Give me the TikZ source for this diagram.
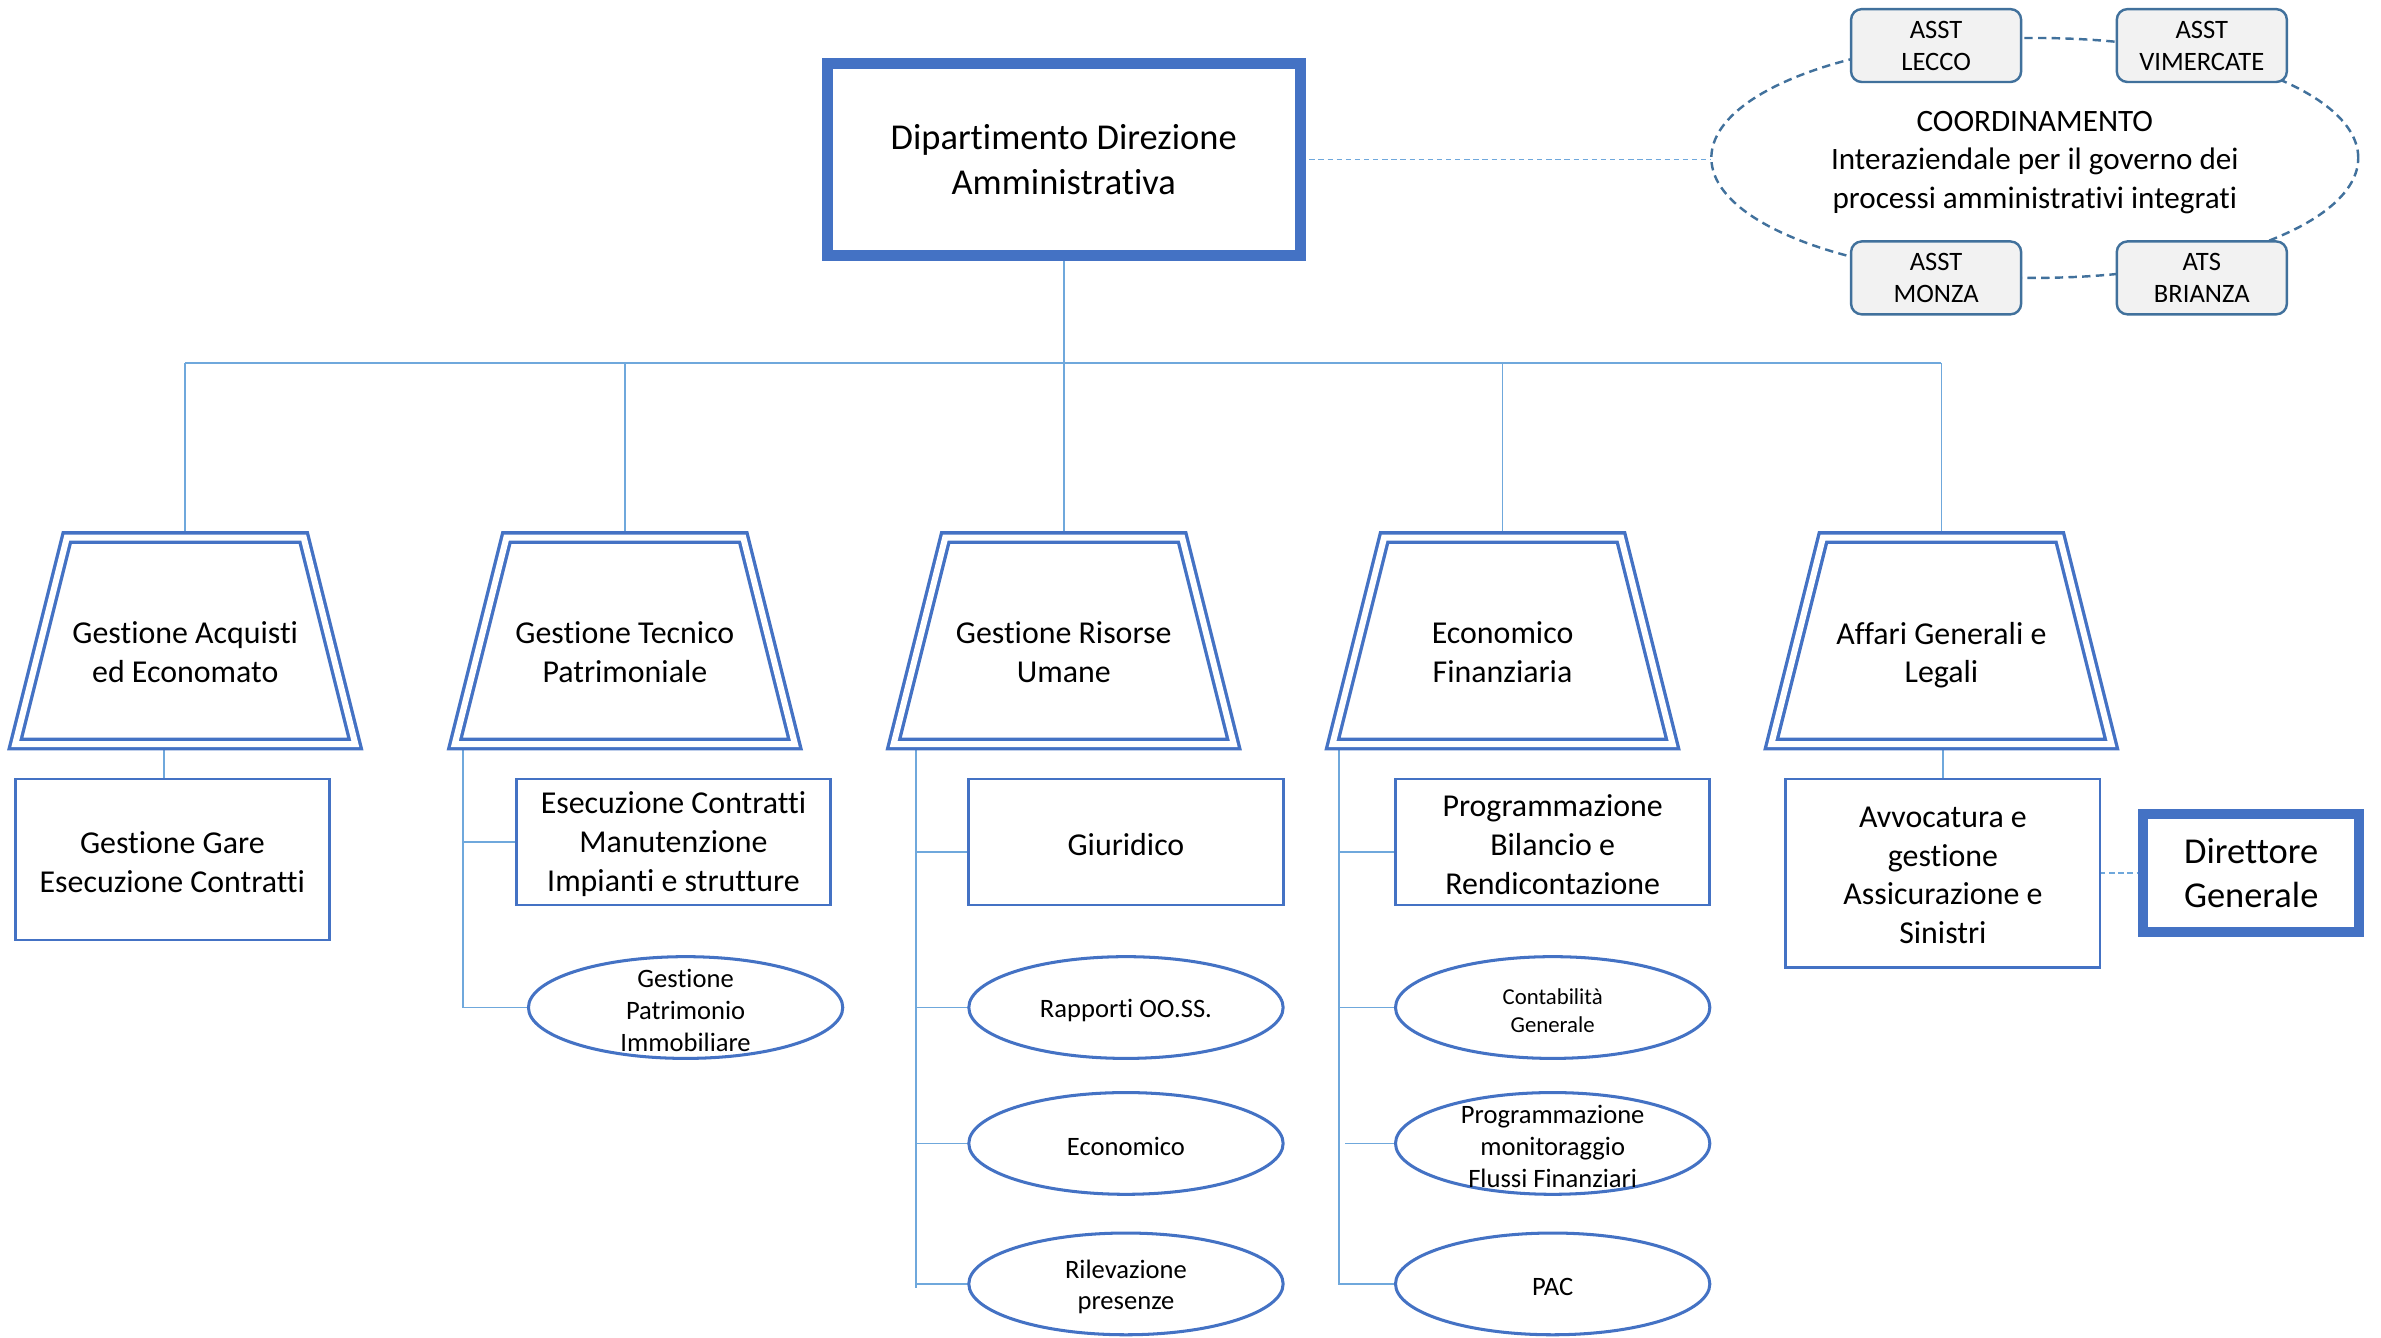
\documentclass[tikz,border=0pt]{standalone}
\usepackage{fontspec}
\setmainfont{Carlito}[Ligatures=NoCommon]
\usetikzlibrary{shapes.geometric,calc}
\definecolor{mainblue}{HTML}{4472C4}
\definecolor{lineblue}{HTML}{6FA8DC}
\definecolor{coordblue}{HTML}{41719C}
\definecolor{boxgray}{HTML}{F2F2F2}
\newcommand{\fsz}[2]{\fontsize{#1pt}{#2pt}\selectfont}
\pgfdeclarelayer{bg}
\pgfdeclarelayer{paper}
\pgfsetlayers{paper,bg,main}
\begin{document}
\begin{tikzpicture}[x=1pt,y=-1pt,
  conn/.style={draw=lineblue, line width=1.1pt},
  dconn/.style={draw=lineblue, line width=1.1pt, dash pattern=on 3.5pt off 2.5pt},
  mainbox/.style={draw=mainblue, line width=7.5pt, fill=white, inner sep=0pt, outer sep=0pt, align=center, font=\fsz{24}{29.3}},
  subbox/.style={draw=mainblue, line width=1.8pt, fill=white, inner sep=0pt, outer sep=0pt, minimum width=207pt},
  boxtext/.style={align=center, font=\fsz{21}{25.6}, inner sep=0pt},
  trapbody/.style={rectangle, inner sep=0pt, outer sep=0pt, minimum width=224pt, minimum height=136pt},
  trapline/.style={draw=mainblue, line width=2.2pt, double=white, double distance=4pt, line join=miter},
  traptext/.style={align=center, font=\fsz{21}{25.6}, inner sep=0pt},
  oval/.style={ellipse, draw=mainblue, line width=2pt, fill=white, inner sep=0pt, outer sep=0pt, minimum width=207pt, minimum height=67pt},
  ovaltext/.style={align=center, font=\fsz{17.5}{21}, inner sep=0pt},
  asst/.style={draw=coordblue, line width=1.6pt, fill=boxgray, rounded corners=7pt, minimum width=112pt, minimum height=48pt, inner sep=0pt, align=center, font=\fsz{17.5}{21}},
]
\begin{pgfonlayer}{paper}
\path[fill=white] (0,0) rectangle (1568,881);
\end{pgfonlayer}
\useasboundingbox (0,0) rectangle (1568,881);

% main box
\node[mainbox, minimum width=311.5pt, minimum height=126.5pt] (main) at (700.5,105)
  {Dipartimento Direzione\\Amministrativa};

% coordination
\node[ellipse, draw=coordblue, line width=1.6pt, dash pattern=on 5.5pt off 3.5pt,
  minimum width=426pt, minimum height=158pt, inner sep=0pt, outer sep=0pt] (coord) at (1340,104) {};
\node[align=center, inner sep=0pt, font=\fsz{20.5}{25.5}] (coordt) at (1340,107)
  {COORDINAMENTO\\Interaziendale per il governo dei\\processi amministrativi integrati};
\node[asst] (lecco) at (1275,30) {ASST\\LECCO};
\node[asst] (vimer) at (1450,30) {ASST\\VIMERCATE};
\node[asst] (monza) at (1275,183) {ASST\\MONZA};
\node[asst] (brianza) at (1450,183) {ATS\\BRIANZA};

% trapezoids
\foreach \n/\c/\txt in {T1/122/{Gestione Acquisti\\ed Economato},
                        T2/411.5/{Gestione Tecnico\\Patrimoniale},
                        T3/700.5/{Gestione Risorse\\Umane},
                        T4/989.5/{Economico\\Finanziaria},
                        T5/1278.5/{Affari Generali e\\Legali}}{
  \node[trapbody] (\n) at (\c,422) {};
  \draw[trapline] ($(\n.north west)+(34,0)$) -- ($(\n.north east)+(-34,0)$)
    -- (\n.south east) -- (\n.south west) -- cycle;
  \node[traptext] (\n t) at ($(\n.center)+(0,11.5)$) {\txt\strut};
}

% rectangles
\foreach \n/\x/\y/\h/\txt in {gare/113.5/566/106/{Gestione Gare\\Esecuzione Contratti},
    ese/443.5/554.5/83/{Esecuzione Contratti\\Manutenzione\\Impianti e strutture},
    giur/741.5/554.5/83/{Giuridico},
    progbil/1022.5/554.5/83/{Programmazione\\Bilancio e\\Rendicontazione},
    avv/1279.5/575/124/{Avvocatura e\\gestione\\Assicurazione e\\Sinistri}}{
  \node[subbox, minimum height=\h pt] (\n) at (\x,\y) {};
  \node[boxtext] (\n t) at ($(\n.center)+(0,1.5)$) {\txt};
}
\node[draw=mainblue, line width=6.6pt, fill=white, inner sep=0pt, outer sep=0pt,
  minimum width=142.4pt, minimum height=77.4pt, align=center, font=\fsz{24}{29.5}]
  (dg) at (1482.5,575) {Direttore\\Generale};

% ellipses
\foreach \n/\x/\y/\txt/\f in {gpi/451.5/663.5/{Gestione\\Patrimonio\\Immobiliare}/{\fsz{17.5}{21}},
                          rapp/741.5/663.5/{Rapporti OO.SS.}/{\fsz{17.5}{21}},
                          econ/741.5/753/{Economico}/{\fsz{17.5}{21}},
                          ril/741.5/845.5/{Rilevazione\\presenze}/{\fsz{17.5}{21}},
                          cont/1022.5/663.5/{Contabilità\\Generale}/{\fsz{15}{18}},
                          pmf/1022.5/753/{Programmazione\\monitoraggio\\Flussi Finanziari}/{\fsz{17.5}{21}},
                          pac/1022.5/845.5/{PAC}/{\fsz{17.5}{21}}}{
  \node[oval] (\n) at (\x,\y) {};
  \node[ovaltext, font=\f] (\n t) at ($(\n.center)+(0,2)$) {\txt};
}

% connectors
\begin{pgfonlayer}{bg}
\coordinate (bus) at (700.5,239);
\draw[conn] (main.south) -- (main.south |- bus);
\draw[conn] (T1.north |- bus) -- (T5.north |- bus);
\foreach \t in {T1,T2,T3,T4,T5} \draw[conn] (\t.north |- bus) -- (\t.north);
\draw[dconn] (main.east) -- (main.east -| coord.west);
\draw[dconn] (avv.east) -- (dg.west);
% T1
\coordinate (k1) at ($(gare.north)+(-5.5,0)$);
\draw[conn] (k1 |- T1.south) -- (k1);
% T2
\coordinate (k2) at (305,663.5);
\draw[conn] (k2 |- T2.south) -- (k2);
\draw[conn] (k2 |- ese.west) -- (ese.west);
\draw[conn] (k2) -- (gpi.west);
% T3
\coordinate (k3) at (603,848);
\coordinate (g3) at ($(giur.west)+(0,6.5)$);
\draw[conn] (k3 |- T3.south) -- (k3);
\draw[conn] (k3 |- g3) -- (g3);
\draw[conn] (k3 |- rapp.west) -- (rapp.west);
\draw[conn] (k3 |- econ.west) -- (econ.west);
\draw[conn] (k3 |- ril.west) -- (ril.west);
% T4
\coordinate (k4) at (882,846);
\coordinate (g4) at ($(progbil.west)+(0,6.5)$);
\coordinate (p4) at (886,753);
\draw[conn] (k4 |- T4.south) -- (k4);
\draw[conn] (k4 |- g4) -- (g4);
\draw[conn] (k4 |- cont.west) -- (cont.west);
\draw[conn] (p4) -- (pmf.west);
\draw[conn] (k4 |- pac.west) -- (pac.west);
% T5
\draw[conn] (avv.north |- T5.south) -- (avv.north);
\end{pgfonlayer}
\end{tikzpicture}
\end{document}
